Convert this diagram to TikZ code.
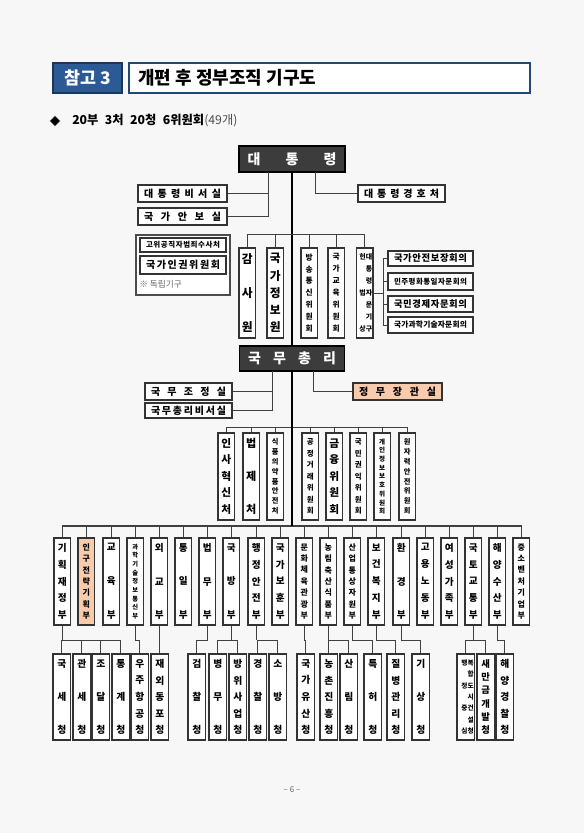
\documentclass[tikz,border=0pt]{standalone}
\usepackage{fontspec}
\setmainfont{Noto Sans CJK KR}
\usetikzlibrary{shapes.geometric}
\definecolor{salmon}{HTML}{F8CBAD}
\definecolor{hdrblue}{HTML}{2B5A94}
\definecolor{darkbox}{HTML}{3C3C3C}
\newcommand\ZV{\par\vfill}
\newcommand\ZH{\hfill}
\newcommand\fs[1]{\fontsize{#1}{#1}\selectfont\bfseries}
\def\bw{16.5}
\def\vpad{6}
% vertical box: [style]{name}{x-left}{y-top}{y-bottom}{font size}{content}
\newcommand\VB[7][]{%
 \pgfmathsetlengthmacro\vbh{(#5-#4-2*\vpad)*0.75pt}%
 \pgfmathsetlengthmacro\vbw{\bw*0.75pt}%
 \pgfmathsetlengthmacro\vbH{(#5-#4)*0.75pt}%
 \node[bx,minimum width=\vbw,minimum height=\vbH,#1] (#2) at ({#3+\bw/2},{(#4+#5)/2})
   {\parbox[c][\vbh][s]{\vbw}{\centering\fs{#6}#7}};}
% horizontal box: [style]{name}{x1}{y1}{x2}{y2}{font size}{content}
\newcommand\HB[8][]{%
 \pgfmathsetlengthmacro\hbw{(#5-#3-12)*0.75pt}%
 \pgfmathsetlengthmacro\hbW{(#5-#3)*0.75pt}%
 \pgfmathsetlengthmacro\hbH{(#6-#4)*0.75pt}%
 \node[bx,minimum width=\hbW,minimum height=\hbH,#1] (#2) at ({(#3+#5)/2},{(#4+#6)/2})
   {\fs{#7}\makebox[\hbw][s]{#8}};}
\tikzset{
 x=0.75pt, y=-0.75pt,
 bx/.style={draw=black!80, line width=0.9pt, fill=white, inner sep=0pt, rectangle},
 ln/.style={draw=black!75, line width=0.6pt},
 thk/.style={draw=black, line width=1.5pt},
 darkb/.style={fill=darkbox, draw=black, line width=0.8pt, text=white, inner sep=0pt},
}
\begin{document}
\begin{tikzpicture}
\fill[black!3] (0,0) rectangle (584,833);
\useasboundingbox (0,0) rectangle (584,833);

% header
\node[fill=hdrblue, draw=hdrblue!60!black, line width=0.8pt, text=white, inner sep=0pt,
  minimum width={69*0.75pt}, minimum height={30*0.75pt}] (ref) at (87.5,78) {\fs{13}참고 3};
\node[draw=hdrblue!80!black, line width=0.9pt, fill=white, inner sep=0pt,
  minimum width={401*0.75pt}, minimum height={30*0.75pt}] (title) at (329.5,78) {};
\node[anchor=west, inner sep=0pt] (titletext) at (138,78) {\fs{13.5}개편 후 정부조직 기구도};
\node[diamond, fill=black, draw=black!60, inner sep=0pt, minimum size={10*0.75pt}] (dia) at (55,121) {};
\node[anchor=west, inner sep=0pt] (sub) at (72,121) {\fs{9.2}20부\hspace{0.3em} 3처\hspace{0.3em} 20청\hspace{0.3em} 6위원회{\mdseries\color{black!70}(49개)}};

% president
\node[darkb, minimum width={106*0.75pt}, minimum height={26*0.75pt}] (pres) at (292,159)
  {\fs{10.5}\makebox[66.75pt][s]{대\ZH 통\ZH 령}};
\HB{sec1}{138}{185}{227}{202}{7.5}{대\ZH 통\ZH 령\ZH 비\ZH 서\ZH 실}
\HB{sec2}{138}{208}{227}{225}{7.5}{국\ZH 가\ZH 안\ZH 보\ZH 실}
\HB{guard}{358}{185}{445}{202}{7.5}{대\ZH 통\ZH 령\ZH 경\ZH 호\ZH 처}

% independent bodies
\node[draw=black!70, line width=1.1pt, fill=white, inner sep=0pt,
  minimum width={94*0.75pt}, minimum height={60*0.75pt}] (indfr) at (183,265) {};
\HB{ind1}{140}{238}{226}{252}{5.6}{고\ZH 위\ZH 공\ZH 직\ZH 자\ZH 범\ZH 죄\ZH 수\ZH 사\ZH 처}
\HB[line width=1.3pt]{ind2}{140}{256}{226}{274}{7.5}{국\ZH 가\ZH 인\ZH 권\ZH 위\ZH 원\ZH 회}
\node[anchor=west, inner sep=0pt, text=black!60] (indnote) at (139,284) {\fontsize{6.5}{6.5}\selectfont ※ 독립기구};

% president's bodies
\def\bw{16.5}
\VB{p1}{239}{248}{338}{8.8}{감\ZV 사\ZV 원}
\VB{p2}{267}{248}{338}{8.8}{국\ZV 가\ZV 정\ZV 보\ZV 원}
\VB{p3}{301}{248}{338}{5.8}{방\ZV 송\ZV 통\ZV 신\ZV 위\ZV 원\ZV 회}
\VB{p4}{328}{248}{338}{5.8}{국\ZV 가\ZV 교\ZV 육\ZV 위\ZV 원\ZV 회}
\pgfmathsetlengthmacro\vbh{(338-248-2*\vpad)*0.75pt}
\node[bx, minimum width={16.5*0.75pt}, minimum height={90*0.75pt}] (p5) at (364.75,293)
  {\parbox[c][\vbh][s]{11.25pt}{\raggedleft\fontsize{5.2}{5.2}\selectfont\bfseries 헌대\ZV 통\ZV 령\ZV 법자\ZV 문\ZV 기\ZV 상구}};

% councils
\HB{c1}{388}{251}{473}{266}{7}{국\ZH 가\ZH 안\ZH 전\ZH 보\ZH 장\ZH 회\ZH 의}
\HB{c2}{388}{273}{473}{290}{5.6}{민\ZH 주\ZH 평\ZH 화\ZH 통\ZH 일\ZH 자\ZH 문\ZH 회\ZH 의}
\HB{c3}{388}{296}{473}{312}{7}{국\ZH 민\ZH 경\ZH 제\ZH 자\ZH 문\ZH 회\ZH 의}
\HB{c4}{388}{317}{473}{333}{5.8}{국\ZH 가\ZH 과\ZH 학\ZH 기\ZH 술\ZH 자\ZH 문\ZH 회\ZH 의}

% prime minister
\node[darkb, minimum width={105*0.75pt}, minimum height={25*0.75pt}] (pm) at (292,358.5)
  {\fs{10.5}\makebox[66pt][s]{국\ZH 무\ZH 총\ZH 리}};
\HB{q1}{145}{383}{232}{400}{7.5}{국\ZH 무\ZH 조\ZH 정\ZH 실}
\HB{q2}{145}{403}{232}{418}{7.5}{국\ZH 무\ZH 총\ZH 리\ZH 비\ZH 서\ZH 실}
\HB[fill=salmon]{q3}{353}{383}{442}{400}{7.5}{정\ZH 무\ZH 장\ZH 관\ZH 실}

% cheo / committees
\VB{d1}{218}{433}{520}{8}{인\ZV 사\ZV 혁\ZV 신\ZV 처}
\VB{d2}{243}{433}{520}{8.3}{법\ZV 제\ZV 처}
\VB{d3}{267}{433}{520}{5.4}{식\ZV 품\ZV 의\ZV 약\ZV 품\ZV 안\ZV 전\ZV 처}
\VB{d4}{302}{433}{520}{5.6}{공\ZV 정\ZV 거\ZV 래\ZV 위\ZV 원\ZV 회}
\VB{d5}{326}{433}{520}{8}{금\ZV 융\ZV 위\ZV 원\ZV 회}
\VB{d6}{350}{433}{520}{5.6}{국\ZV 민\ZV 권\ZV 익\ZV 위\ZV 원\ZV 회}
\VB{d7}{374}{433}{520}{4.9}{개\ZV 인\ZV 정\ZV 보\ZV 보\ZV 호\ZV 위\ZV 원\ZV 회}
\VB{d8}{399}{433}{520}{5.4}{원\ZV 자\ZV 력\ZV 안\ZV 전\ZV 위\ZV 원\ZV 회}

% ministries
\VB{m1}{54}{538}{625}{7.2}{기\ZV 획\ZV 재\ZV 정\ZV 부}
\VB[fill=salmon]{m2}{78}{538}{625}{6}{인\ZV 구\ZV 전\ZV 략\ZV 기\ZV 획\ZV 부}
\VB{m3}{103}{538}{625}{7.2}{교\ZV 육\ZV 부}
\VB{m4}{127}{538}{625}{4.7}{과\ZV 학\ZV 기\ZV 술\ZV 정\ZV 보\ZV 통\ZV 신\ZV 부}
\VB{m5}{151}{538}{625}{7.2}{외\ZV 교\ZV 부}
\VB{m6}{175}{538}{625}{7.2}{통\ZV 일\ZV 부}
\VB{m7}{199}{538}{625}{7.2}{법\ZV 무\ZV 부}
\VB{m8}{223}{538}{625}{7.2}{국\ZV 방\ZV 부}
\VB{m9}{248}{538}{625}{7.2}{행\ZV 정\ZV 안\ZV 전\ZV 부}
\VB{m10}{272}{538}{625}{7.2}{국\ZV 가\ZV 보\ZV 훈\ZV 부}
\VB{m11}{296}{538}{625}{6}{문\ZV 화\ZV 체\ZV 육\ZV 관\ZV 광\ZV 부}
\VB{m12}{320}{538}{625}{6}{농\ZV 림\ZV 축\ZV 산\ZV 식\ZV 품\ZV 부}
\VB{m13}{344}{538}{625}{6}{산\ZV 업\ZV 통\ZV 상\ZV 자\ZV 원\ZV 부}
\VB{m14}{368}{538}{625}{7.2}{보\ZV 건\ZV 복\ZV 지\ZV 부}
\VB{m15}{393}{538}{625}{7.2}{환\ZV 경\ZV 부}
\VB{m16}{417}{538}{625}{7.2}{고\ZV 용\ZV 노\ZV 동\ZV 부}
\VB{m17}{441}{538}{625}{7.2}{여\ZV 성\ZV 가\ZV 족\ZV 부}
\VB{m18}{465}{538}{625}{7.2}{국\ZV 토\ZV 교\ZV 통\ZV 부}
\VB{m19}{489}{538}{625}{7.2}{해\ZV 양\ZV 수\ZV 산\ZV 부}
\VB{m20}{513}{538}{625}{6}{중\ZV 소\ZV 벤\ZV 처\ZV 기\ZV 업\ZV 부}

% agencies
\def\bw{17.5}
\VB{a1}{53}{654}{740}{7.3}{국\ZV 세\ZV 청}
\VB{a2}{73}{654}{740}{7.3}{관\ZV 세\ZV 청}
\VB{a3}{92}{654}{740}{7.3}{조\ZV 달\ZV 청}
\VB{a4}{112}{654}{740}{7.3}{통\ZV 계\ZV 청}
\VB{a5}{131}{654}{740}{7.3}{우\ZV 주\ZV 항\ZV 공\ZV 청}
\VB{a6}{151}{654}{740}{7.3}{재\ZV 외\ZV 동\ZV 포\ZV 청}
\VB{a7}{188}{654}{740}{7.3}{검\ZV 찰\ZV 청}
\VB{a8}{209}{654}{740}{7.3}{병\ZV 무\ZV 청}
\VB{a9}{229}{654}{740}{7.3}{방\ZV 위\ZV 사\ZV 업\ZV 청}
\VB{a10}{249}{654}{740}{7.3}{경\ZV 찰\ZV 청}
\VB{a11}{269}{654}{740}{7.3}{소\ZV 방\ZV 청}
\VB{a12}{297}{654}{740}{7.3}{국\ZV 가\ZV 유\ZV 산\ZV 청}
\VB{a13}{320}{654}{740}{7.3}{농\ZV 촌\ZV 진\ZV 흥\ZV 청}
\VB{a14}{340}{654}{740}{7.3}{산\ZV 림\ZV 청}
\VB{a15}{364}{654}{740}{7.3}{특\ZV 허\ZV 청}
\VB{a16}{387}{654}{740}{7.3}{질\ZV 병\ZV 관\ZV 리\ZV 청}
\VB{a17}{412}{654}{740}{7.3}{기\ZV 상\ZV 청}
\pgfmathsetlengthmacro\vbh{(740-654-2*\vpad)*0.75pt}
\node[bx, minimum width={17.5*0.75pt}, minimum height={86*0.75pt}] (a18) at (465.75,697)
  {\parbox[c][\vbh][s]{12pt}{\raggedleft\fontsize{5}{5}\selectfont\bfseries 행복\ZV 합\ZV 정도\ZV 시\ZV 중건\ZV 설\ZV 심청}};
\VB{a19}{477}{654}{740}{7}{새\ZV 만\ZV 금\ZV 개\ZV 발\ZV 청}
\VB{a20}{496}{654}{740}{7.3}{해\ZV 양\ZV 경\ZV 찰\ZV 청}

% ---------- connectors ----------
\coordinate (pbL) at (268,172);
\coordinate (pbR) at (315,172);
\draw[ln] (pbL) |- (sec2.east);
\draw[ln] (pbL |- sec1.east) -- (sec1.east);
\draw[ln] (pbR) |- (guard.west);
\draw[thk] (pres.south) -- (pm.north);

\coordinate (bus1) at (0,234);
\draw[ln] (p1.north) |- (p5.north |- bus1) -- (p5.north);
\foreach \n in {p2,p3,p4} \draw[ln] (\n.north) -- (\n.north |- bus1);

\coordinate (brk) at (383,0);
\draw[ln] (p5.east) -- (p5.east -| brk);
\draw[ln] (c1.west) -- (c1.west -| brk) -- (c4.west -| brk) -- (c4.west);
\draw[ln] (c2.west) -- (c2.west -| brk);
\draw[ln] (c3.west) -- (c3.west -| brk);

\coordinate (qL) at (272,371);
\coordinate (qR) at (313,371);
\draw[ln] (qL) |- (q2.east);
\draw[ln] (qL |- q1.east) -- (q1.east);
\draw[ln] (qR) |- (q3.west);

\coordinate (bus2) at (0,427);
\coordinate (bus3) at (0,526);
\draw[ln] (d1.north) |- (d8.north |- bus2) -- (d8.north);
\foreach \n in {d2,d3,d4,d5,d6,d7} \draw[ln] (\n.north) -- (\n.north |- bus2);
\draw[ln, line width=0.9pt] (m1.north) |- (m20.north |- bus3) -- (m20.north);
\foreach \n in {m2,m3,m4,m5,m6,m7,m8,m9,m10,m11,m12,m13,m14,m15,m16,m17,m18,m19}
  \draw[ln] (\n.north) -- (\n.north |- bus3);
\draw[thk] (pm.south) -- (pm.south |- bus3);

\coordinate (jy) at (0,640);
% single links
\foreach \m/\a in {m4/a5,m5/a6,m7/a7,m11/a12,m13/a15,m14/a16,m15/a17,m19/a20}
  \draw[ln] (\m.south) -- (\m.south |- jy) -- (\a.north |- jy) -- (\a.north);
% grouped links
\foreach \m/\a/\b in {m1/a1/a4,m8/a8/a9,m9/a10/a11,m12/a13/a14,m18/a18/a19}{
  \draw[ln] (\m.south) -- (\m.south |- jy);
  \draw[ln] (\a.north) -- (\a.north |- jy) -- (\b.north |- jy) -- (\b.north);
}
\foreach \a in {a2,a3} \draw[ln] (\a.north) -- (\a.north |- jy);

\node[text=black!60, inner sep=0pt] (pageno) at (292,790) {\fontsize{6}{6}\selectfont – 6 –};
\end{tikzpicture}
\end{document}
